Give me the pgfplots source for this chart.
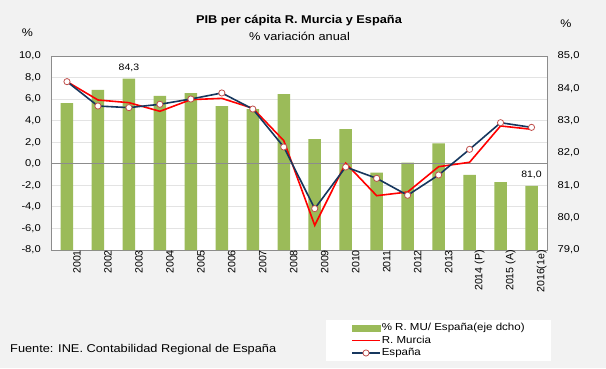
\documentclass[border=0pt]{standalone}
\usepackage{pgfplots}
\pgfplotsset{compat=1.18}
\usepackage{fontspec}
\setmainfont{Liberation Sans}[FakeStretch=1.13]
\newfontfamily\rotfont{Liberation Sans}
\definecolor{bgcol}{HTML}{F2F2F2}
\definecolor{barcol}{HTML}{9BBB59}
\definecolor{navy}{HTML}{17375E}
\definecolor{mkedge}{HTML}{C0504D}
\definecolor{gridcol}{HTML}{E3E3E3}
\definecolor{bordercol}{HTML}{8C8C8C}
\definecolor{zerocol}{HTML}{8C8C8C}
\begin{document}
\begin{tikzpicture}[x=1pt,y=1pt]
\fill[bgcol] (0,0) rectangle (606,368);
\pgfplotsset{
  base/.style={at={(51.5pt,118pt)}, anchor=south west, scale only axis,
    width=495.5pt, height=194pt, xmin=-0.5, xmax=15.5, clip=false,
    /pgf/number format/assume math mode=true},
}
% Axis A: background, grid, left labels, x labels
\begin{axis}[base, ymin=-8, ymax=10,
  axis background/.style={fill=white},
  ytick={-8,-6,...,10}, ymajorgrids, grid style={gridcol, line width=0.8pt},
  major tick length=0pt,
  axis line style={bordercol, line width=0.8pt},
  xtick={0,...,15},
  xticklabels={2001,2002,2003,2004,2005,2006,2007,2008,2009,2010,2011,2012,2013,2014 (P),2015 (A),2016(1e)},
  x tick label style={rotate=90, anchor=east, inner sep=0pt, yshift=-10pt, font=\rotfont\fontsize{10.6}{11}\selectfont},
  y tick label style={anchor=east, inner sep=0pt, xshift=-10.5pt, font=\fontsize{9.9}{10}\selectfont},
  yticklabel style={/pgf/number format/.cd, fixed, fixed zerofill, precision=1, use comma},
]
\end{axis}
% Axis B: bars on right axis
\begin{axis}[base, ymin=79, ymax=85,
  hide x axis, axis y line*=right, y axis line style={draw=none},
  ytick={79,...,85}, major tick length=0pt,
  y tick label style={anchor=west, inner sep=0pt, xshift=10.5pt, font=\fontsize{9.9}{10}\selectfont},
  yticklabel style={/pgf/number format/.cd, fixed, fixed zerofill, precision=1, use comma},
  ybar, bar width=12.5pt,
]
\addplot[fill=barcol, draw=none] coordinates {
 (0,83.54) (1,83.95) (2,84.3) (3,83.77) (4,83.85) (5,83.45) (6,83.36) (7,83.82)
 (8,82.43) (9,82.74) (10,81.39) (11,81.70) (12,82.30) (13,81.32) (14,81.10) (15,80.98)};
\node[font=\fontsize{9.3}{10}\selectfont, anchor=south, inner sep=0pt] at (axis cs:2,84.3) [yshift=7pt] {84,3};
\node[font=\fontsize{9.3}{10}\selectfont, anchor=south, inner sep=0pt] at (axis cs:15,80.98) [yshift=7.5pt] {81,0};
\end{axis}
% Axis C: lines on left axis
\begin{axis}[base, ymin=-8, ymax=10, hide axis,
  legend style={at={(0.554,-0.361)}, anchor=north west, draw=none, fill=white,
    inner xsep=25pt, inner ysep=1.5pt, font=\fontsize{10.2}{11}\selectfont,
    row sep=0pt,
    nodes={inner sep=1pt, text height=8pt, text depth=2.5pt}},
  legend cell align=left,
]
\draw[zerocol, line width=0.8pt] (axis cs:-0.5,0) -- (axis cs:15.5,0);
\addplot[red, line width=1.6pt, mark=none, forget plot]
 coordinates {
 (0,7.62) (1,5.92) (2,5.67) (3,4.87) (4,5.95) (5,6.07) (6,5.15) (7,2.15)
 (8,-5.71) (9,0.05) (10,-2.96) (11,-2.62) (12,-0.27) (13,0.14) (14,3.51) (15,3.20)};
\addplot[navy, line width=1.6pt, mark=*, mark size=3.1pt, forget plot,
  mark options={fill=white, draw=mkedge, line width=0.8pt}]
 coordinates {
 (0,7.62) (1,5.36) (2,5.21) (3,5.52) (4,6.01) (5,6.57) (6,5.08) (7,1.56)
 (8,-4.16) (9,-0.30) (10,-1.35) (11,-2.92) (12,-1.04) (13,1.34) (14,3.81) (15,3.38)};
\addlegendimage{legend image code/.code={\fill[barcol] (0pt,-3pt) rectangle (28pt,3pt);}}
\addlegendentry{\% R. MU/ España(eje dcho)}
\addlegendimage{legend image code/.code={\draw[red, line width=1.6pt] (0pt,0pt) -- (28pt,0pt);}}
\addlegendentry{R. Murcia}
\addlegendimage{legend image code/.code={\draw[navy, line width=1.6pt] (0pt,0pt) -- (28pt,0pt);
     \draw[fill=white, draw=mkedge, line width=0.8pt] (14pt,0pt) circle (3.1pt);}}
\addlegendentry{España}
\end{axis}
\node[font=\bfseries\fontsize{11.3}{12}\selectfont] at (299,347) {PIB per cápita R. Murcia y España};
\node[font=\fontsize{11.3}{12}\selectfont] at (299.5,332) {\% variación anual};
\node[font=\fontsize{11}{12}\selectfont] at (27.5,335) {\%};
\node[font=\fontsize{11}{12}\selectfont] at (566,344) {\%};
\node[font=\fontsize{11.3}{12}\selectfont, anchor=west, inner sep=0pt] at (10,18) {Fuente: INE. Contabilidad Regional de España};
\end{tikzpicture}
\end{document}
